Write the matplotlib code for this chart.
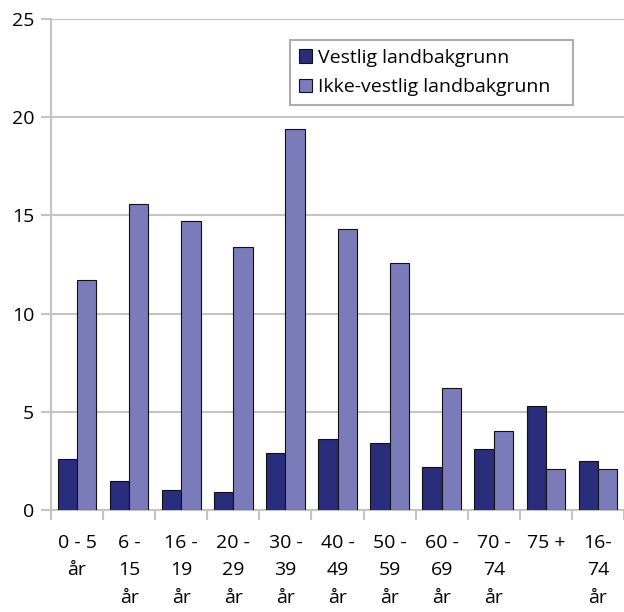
import numpy as np
import matplotlib.pyplot as plt

plt.rcParams['font.family'] = ['Open Sans', 'DejaVu Sans']

categories = ['0 - 5\når', '6 -\n15\når', '16 -\n19\når', '20 -\n29\når', '30 -\n39\når',
              '40 -\n49\når', '50 -\n59\når', '60 -\n69\når', '70 -\n74\når', '75 +', '16-\n74\når']
vestlig = [2.6, 1.5, 1.0, 0.9, 2.9, 3.6, 3.4, 2.2, 3.1, 5.3, 2.5]
ikke_vestlig = [11.7, 15.6, 14.7, 13.4, 19.4, 14.3, 12.6, 6.2, 4.0, 2.1, 2.1]

DARK = '#2a2d7b'
LIGHT = '#7b7bb9'
GRID = '#c4c4c4'
FS = 14

fig = plt.figure(figsize=(6.24, 6.12), dpi=100)
ax = fig.add_axes([51 / 624, 1 - 510 / 612, 573 / 624, 491 / 612])

x = np.arange(len(categories))
w = 0.37
ax.bar(x - w / 2, vestlig, w, color=DARK, edgecolor='#111111', linewidth=0.8,
       label='Vestlig landbakgrunn', zorder=3)
ax.bar(x + w / 2, ikke_vestlig, w, color=LIGHT, edgecolor='#111111', linewidth=0.8,
       label='Ikke-vestlig landbakgrunn', zorder=3)

ax.set_xlim(-0.5, len(categories) - 0.5)
ax.set_ylim(0, 25)
ax.set_yticks([0, 5, 10, 15, 20, 25])
ax.yaxis.grid(True, color=GRID, linewidth=1.5, zorder=0)

# category boundary ticks on the x axis, labels centred below
ax.set_xticks(np.arange(len(categories) + 1) - 0.5)
ax.set_xticklabels([])
ax.set_xticks(x, minor=True)
ax.set_xticklabels(categories, minor=True, fontsize=FS, linespacing=1.7, va='top')
ax.tick_params(axis='x', which='minor', length=0, pad=17)
ax.tick_params(axis='x', which='major', length=7, width=1.5, color=GRID)
ax.tick_params(axis='y', length=7, width=1.5, color=GRID, labelsize=FS, pad=5)

for s in ['top', 'right']:
    ax.spines[s].set_visible(False)
for s in ['left', 'bottom']:
    ax.spines[s].set_color(GRID)
    ax.spines[s].set_linewidth(1.5)

leg = ax.legend(loc='upper left', bbox_to_anchor=(239 / 573, 1 - 85 / 491, 283 / 573, 64 / 491),
                mode='expand', fontsize=FS, frameon=True, fancybox=False,
                handlelength=0.7, handleheight=0.7, handletextpad=0.3,
                labelspacing=0.6, borderpad=0.45, borderaxespad=0)
leg.get_frame().set_edgecolor('#999999')
leg.get_frame().set_linewidth(1.5)

fig.savefig('out.png', dpi=100)
